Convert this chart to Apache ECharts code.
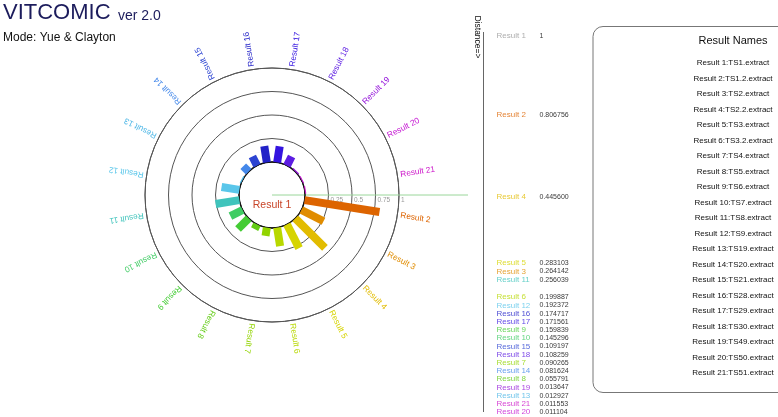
<!DOCTYPE html>
<html><head><meta charset="utf-8">
<script src="https://cdn.jsdelivr.net/npm/echarts@6/dist/echarts.min.js"></script>
<style>html,body{margin:0;padding:0;background:#fff}#c{width:778px;height:417px}</style>
</head><body><div id="c"></div>
<script>
const resultLabels = ['Result 1','Result 2','Result 3','Result 4','Result 5','Result 6','Result 7','Result 8','Result 9','Result 10','Result 11','Result 12','Result 13','Result 14','Result 15','Result 16','Result 17','Result 18','Result 19','Result 20','Result 21'];
const distances = [1, 0.806756, 0.264142, 0.445600, 0.283103, 0.199887, 0.090265, 0.055791, 0.159839, 0.145296, 0.256039, 0.192372, 0.012927, 0.081624, 0.109197, 0.174717, 0.171561, 0.108259, 0.013647, 0.011104, 0.011553];
const distanceText = ['1','0.806756','0.264142','0.445600','0.283103','0.199887','0.090265','0.055791','0.159839','0.145296','0.256039','0.192372','0.012927','0.081624','0.109197','0.174717','0.171561','0.108259','0.013647','0.011104','0.011553'];
const fileNames = ['TS1.extract','TS1.2.extract','TS2.extract','TS2.2.extract','TS3.extract','TS3.2.extract','TS4.extract','TS5.extract','TS6.extract','TS7.extract','TS8.extract','TS9.extract','TS19.extract','TS20.extract','TS21.extract','TS28.extract','TS29.extract','TS30.extract','TS49.extract','TS50.extract','TS51.extract'];
const radiusTickLabels = {0.25:'0.25', 0.5:'0.5', 0.75:'0.75', 1:'1'};
const colors = ['#999999','#dd6400','#e08c00','#e2bc00','#d6d400','#b8d800','#92d400','#62cc14','#44cc34','#40cc64','#40c4bc','#5ac6ea','#4cb6e6','#4488ea','#2c44d2','#2222c8','#3414e0','#5c1ce2','#9414da','#c414d2','#cc14c8'];
const centerLabel = 'Result 1';
const ringNames = resultLabels.slice(1);

const FONT = '"Liberation Sans", Arial, Helvetica, sans-serif';
const chart = echarts.init(document.getElementById('c'));

function renderBar(params, api) {
  const idx = params.dataIndex;
  const v = api.value(0), a = api.value(1);
  const p0 = api.coord([0, a]), p1 = api.coord([v, a]), pe = api.coord([1, a]);
  const dx = pe[0] - p0[0], dy = pe[1] - p0[1];
  const L = Math.hypot(dx, dy), ux = dx / L, uy = dy / L;
  const rot = -Math.atan2(uy, ux);
  const c = colors[idx + 1];
  return {type: 'group', children: [
    {type: 'line', shape: {x1: p0[0], y1: p0[1], x2: p1[0], y2: p1[1]},
     style: {stroke: c, lineWidth: 8, lineCap: 'butt'}},
    {type: 'text', x: pe[0] + ux * 3, y: pe[1] + uy * 3, rotation: rot,
     style: {text: ringNames[idx], fill: c, fontSize: 8.3, fontFamily: FONT, align: 'left', verticalAlign: 'middle'}}
  ]};
}
function renderCenter(params, api) {
  const cs = params.coordSys;
  return {type: 'group', children: [
    {type: 'line', shape: {x1: cs.cx, y1: cs.cy, x2: cs.cx + 196, y2: cs.cy}, style: {stroke: '#9ad69a', lineWidth: 1}, z2: 1},
    {type: 'circle', shape: {cx: cs.cx, cy: cs.cy, r: cs.r0}, style: {fill: null, stroke: '#111', lineWidth: 1.3}, z2: 5},
    {type: 'text', x: cs.cx, y: cs.cy + 10, style: {text: centerLabel, fill: '#c84428', fontSize: 10.5, fontFamily: FONT, align: 'center', verticalAlign: 'middle'}, z2: 6}
  ]};
}

// list of results sorted by distance (descending), as in the reference
const listOrder = resultLabels.map((n, i) => i).sort((a, b) => distances[b] - distances[a]);
const listData = listOrder.map(i => ({
  value: [0, distances[i]],
  name: resultLabels[i],
  valText: distanceText[i],
  label: {color: colors[i]}
}));
let prevLabelY = -Infinity;
function pushDown(p) {
  if (p.dataIndex === 0) prevLabelY = -Infinity;
  const nat = p.labelRect.y + p.labelRect.height / 2;
  const ny = Math.max(nat, prevLabelY + 8.2);
  prevLabelY = ny;
  return {dy: ny - nat};
}

const graphics = [
  {type: 'text', left: 3, top: 2, style: {text: 'VITCOMIC', fill: '#1c1c5c', fontSize: 22, fontFamily: FONT}},
  {type: 'text', left: 118, top: 9, style: {text: 'ver 2.0', fill: '#1c1c5c', fontSize: 14, fontFamily: FONT}},
  {type: 'text', left: 3, top: 32, style: {text: 'Mode: Yue & Clayton', fill: '#111', fontSize: 12, fontFamily: FONT}},
  {type: 'text', x: 477.5, y: 37, rotation: -Math.PI / 2, style: {text: 'Distance=>', fill: '#111', fontSize: 8.5, fontFamily: FONT, align: 'center', verticalAlign: 'middle'}},
  {type: 'line', shape: {x1: 483.5, y1: 32, x2: 483.5, y2: 412}, style: {stroke: '#666', lineWidth: 1}},
  {type: 'rect', shape: {x: 593, y: 26.5, width: 210, height: 366, r: 10}, style: {fill: null, stroke: '#777', lineWidth: 1}},
  {type: 'text', x: 733, y: 41, style: {text: 'Result Names', fill: '#111', fontSize: 11, fontFamily: FONT, align: 'center', verticalAlign: 'middle'}}
];
resultLabels.forEach((n, i) => {
  graphics.push({type: 'text', x: 733, y: 63 + 15.5 * i,
    style: {text: n + ':' + fileNames[i], fill: '#111', fontSize: 8, fontFamily: FONT, align: 'center', verticalAlign: 'middle'}});
});

const option = {
  animation: false,
  textStyle: {fontFamily: FONT},
  polar: {center: [272, 195], radius: [33, 127]},
  angleAxis: {type: 'category', data: ringNames, startAngle: 0, clockwise: true, boundaryGap: true,
    axisLine: {show: true, lineStyle: {color: '#555', width: 1}}, axisTick: {show: false}, axisLabel: {show: false}, splitLine: {show: false}},
  radiusAxis: {type: 'value', min: 0, max: 1, interval: 0.25,
    axisLine: {show: false}, axisTick: {show: false},
    axisLabel: {show: true, color: '#999', fontSize: 6.5, margin: -2, align: 'left', verticalAlign: 'top', padding: [0, 0, 0, 2],
      formatter: v => radiusTickLabels[v] || ''},
    splitLine: {show: true, lineStyle: {color: '#555', width: 1}}},
  grid: {left: 483, top: 32, width: 57, height: 380},
  xAxis: {type: 'value', min: 0, max: 1, show: false},
  yAxis: {type: 'value', min: -0.081, max: 1.01, show: false,
    breaks: [{start: 0.55, end: 0.711, gap: 0}], breakArea: {show: false}},
  graphic: graphics,
  series: [
    {type: 'custom', id: 'center', coordinateSystem: 'polar', data: [[0, 0]], renderItem: renderCenter, silent: true, z: 2},
    {type: 'custom', id: 'bars', coordinateSystem: 'polar', clip: false,
      data: ringNames.map((n, i) => [distances[i + 1], i]), encode: {radius: 0, angle: 1}, renderItem: renderBar, z: 3},
    {type: 'scatter', id: 'list', xAxisIndex: 0, yAxisIndex: 0, symbolSize: 1, itemStyle: {color: 'rgba(0,0,0,0)'},
      data: listData,
      label: {show: true, position: 'right', distance: 13, fontFamily: FONT,
        formatter: p => '{n|' + p.name + '}{v|' + p.data.valText + '}',
        rich: {n: {width: 43, fontSize: 8, fontFamily: FONT}, v: {fontSize: 7, color: '#000', fontFamily: FONT}}},
      labelLayout: pushDown}
  ]
};
chart.setOption(option);
</script></body></html>
